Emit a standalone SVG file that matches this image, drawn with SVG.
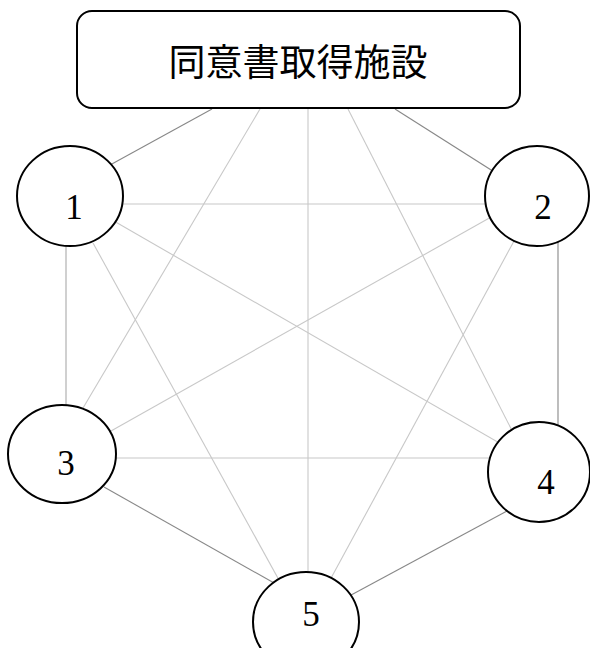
<svg xmlns="http://www.w3.org/2000/svg" width="590" height="648" viewBox="0 0 590 648">
<style>
.outer{stroke:#888;stroke-width:1.1;fill:none}
.inner{stroke:#c8c8c8;stroke-width:1.1;fill:none}
.node{fill:#fff;stroke:#000;stroke-width:2}
.num{font-family:"Liberation Serif","DejaVu Serif",serif;font-size:35px;fill:#000;text-anchor:middle}
.title{font-family:"Noto Sans CJK JP","Noto Sans CJK SC",sans-serif;font-size:37px;fill:#000;text-anchor:middle}
</style>
<rect width="590" height="648" fill="#fff"/>
<g id="connectors">
<line class="outer" x1="212" y1="109" x2="90" y2="176"/>
<line class="outer" x1="395" y1="109" x2="510" y2="182"/>
<line class="inner" x1="260" y1="109" x2="70" y2="430"/>
<line class="inner" x1="308" y1="109" x2="308" y2="600"/>
<line class="inner" x1="348" y1="109" x2="525" y2="456"/>
<line class="inner" x1="100" y1="204" x2="510" y2="204"/>
<line class="outer" x1="66" y1="220" x2="66" y2="430" style="stroke:#aaa"/>
<line class="outer" x1="558" y1="220" x2="558" y2="440"/>
<line class="inner" x1="90" y1="458" x2="510" y2="458"/>
<line class="inner" x1="100" y1="213" x2="520" y2="455"/>
<line class="inner" x1="93" y1="243" x2="290" y2="600"/>
<line class="inner" x1="500" y1="212" x2="95" y2="440"/>
<line class="inner" x1="520" y1="230" x2="330" y2="580"/>
<line class="outer" x1="104" y1="487" x2="290" y2="592"/>
<line class="outer" x1="507" y1="511" x2="340" y2="601"/>
</g>
<g id="facility">
<rect class="node" x="77" y="11" width="443" height="97" rx="15" ry="15"/>
<text class="title" x="298" y="76">同意書取得施設</text>
</g>
<g id="node1">
<ellipse class="node" cx="70" cy="196" rx="53" ry="50"/>
<text class="num" x="74" y="219">1</text>
</g>
<g id="node2">
<ellipse class="node" cx="537" cy="196" rx="52" ry="50"/>
<text class="num" x="543" y="219">2</text>
</g>
<g id="node3">
<ellipse class="node" cx="62" cy="454" rx="54" ry="49"/>
<text class="num" x="66" y="475">3</text>
</g>
<g id="node4">
<ellipse class="node" cx="539" cy="472" rx="51" ry="50"/>
<text class="num" x="546" y="494">4</text>
</g>
<g id="node5">
<ellipse class="node" cx="306" cy="622" rx="53" ry="50"/>
<text class="num" x="311" y="626">5</text>
</g>
</svg>
